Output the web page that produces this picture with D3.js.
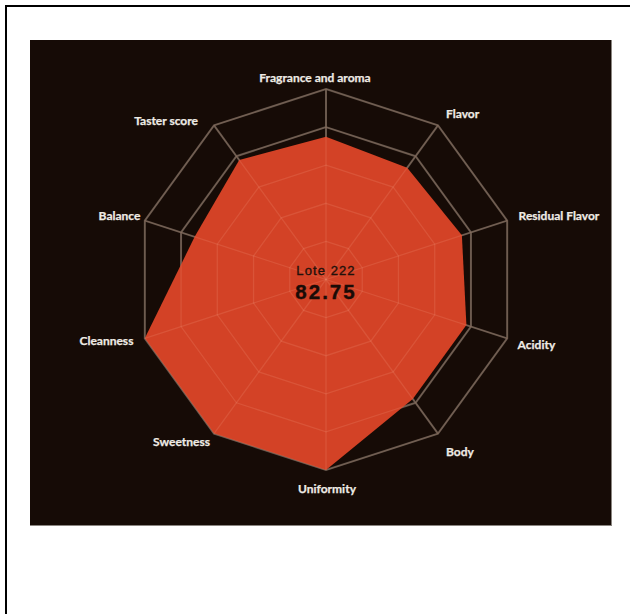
<!DOCTYPE html>
<html>
<head>
<meta charset="utf-8">
<script src="https://cdn.jsdelivr.net/npm/d3@7"></script>
<style>
  html, body { margin: 0; padding: 0; background: #fff; }
  svg { display: block; }
</style>
</head>
<body>
<svg id="chart" width="630" height="614"></svg>
<script>
// ---- data ----
const categories = ["Fragrance and aroma", "Flavor", "Residual Flavor", "Acidity", "Body",
                    "Uniformity", "Sweetness", "Cleanness", "Balance", "Taster score"];
const scores = [7.5, 7.25, 7.5, 7.75, 7.75, 10, 10, 10, 7.25, 7.75];
const gridLevels = [2, 4, 6, 8, 10];
const scoreDomain = [0, 10];
const lotName = "Lote 222";

// ---- layout ----
const cx = 326, cy = 279.5, R = 190.5;
const svg = d3.select("#chart");

// outer page frame
svg.append("rect").attr("x", 6).attr("y", 6).attr("width", 700).attr("height", 700)
  .attr("fill", "#fff").attr("stroke", "#000").attr("stroke-width", 2);

// dark panel
svg.append("rect").attr("x", 30).attr("y", 40).attr("width", 581).attr("height", 485)
  .attr("fill", "#160b06");
svg.append("line").attr("x1", 611.5).attr("x2", 611.5).attr("y1", 40).attr("y2", 526)
  .attr("stroke", "#8a8580").attr("stroke-width", 1);
svg.append("line").attr("x1", 30).attr("x2", 612).attr("y1", 525.5).attr("y2", 525.5)
  .attr("stroke", "#8a8580").attr("stroke-width", 1);

const g = svg.append("g").attr("transform", `translate(${cx},${cy})`);

const rScale = d3.scaleLinear().domain(scoreDomain).range([0, R]);
const angle = d3.scaleLinear().domain([0, categories.length]).range([0, 2 * Math.PI]);

const radial = d3.lineRadial()
  .angle((d, i) => angle(i))
  .radius(d => rScale(d))
  .curve(d3.curveLinearClosed);

function drawGrid(stroke, width) {
  const gg = g.append("g");
  gridLevels.forEach(lv => {
    gg.append("path")
      .attr("d", radial(categories.map(() => lv)))
      .attr("fill", "none").attr("stroke", stroke).attr("stroke-width", width)
      .attr("stroke-linejoin", "miter");
  });
  categories.forEach((c, i) => {
    const a = angle(i);
    gg.append("line")
      .attr("x1", 0).attr("y1", 0)
      .attr("x2", Math.sin(a) * rScale(scoreDomain[1]))
      .attr("y2", -Math.cos(a) * rScale(scoreDomain[1]))
      .attr("stroke", stroke).attr("stroke-width", width);
  });
  return gg;
}

// grid under the area
drawGrid("#5b4f45", 2);

// data area
g.append("path")
  .attr("d", radial(scores))
  .attr("fill", "#d34226");

// faint grid over the area
drawGrid("rgba(255,190,160,0.15)", 1.3);

// category labels
const nudges = [[-11, 0], [1, -2], [0, -1], [-1, 2], [1, 8], [1, 6], [3, -2], [0, -2], [7, -1], [-9, 5]];
categories.forEach((c, i) => {
  const a = angle(i);
  const s = Math.sin(a), co = Math.cos(a);
  const rr = rScale(scoreDomain[1]) + 12;
  const x = s * rr + nudges[i][0], y = -co * rr + nudges[i][1];
  const anchor = Math.abs(s) < 0.01 ? "middle" : (s > 0 ? "start" : "end");
  g.append("text")
    .attr("x", x).attr("y", y)
    .attr("text-anchor", anchor)
    .attr("dominant-baseline", "central")
    .attr("font-family", "Lato, 'Open Sans', sans-serif")
    .attr("font-weight", "bold")
    .attr("font-size", 12)
    .attr("fill", "#efebe5")
    .attr("stroke", "#efebe5").attr("stroke-width", 0.25)
    .text(c);
});

// center text
g.append("text")
  .attr("x", 0).attr("y", -9)
  .attr("text-anchor", "middle").attr("dominant-baseline", "central")
  .attr("font-family", "'Liberation Sans', Arial, sans-serif")
  .attr("font-size", 13).attr("letter-spacing", 1.1)
  .attr("fill", "#22110b").attr("stroke", "#22110b").attr("stroke-width", 0.35)
  .text(lotName);
g.append("text")
  .attr("x", 0).attr("y", 12)
  .attr("text-anchor", "middle").attr("dominant-baseline", "central")
  .attr("font-family", "'Liberation Sans', Arial, sans-serif")
  .attr("font-size", 20.5).attr("font-weight", "bold").attr("letter-spacing", 2)
  .attr("fill", "#1a0b06").attr("stroke", "#1a0b06").attr("stroke-width", 0.4)
  .text(d3.format(".2f")(d3.sum(scores)));
</script>
</body>
</html>
